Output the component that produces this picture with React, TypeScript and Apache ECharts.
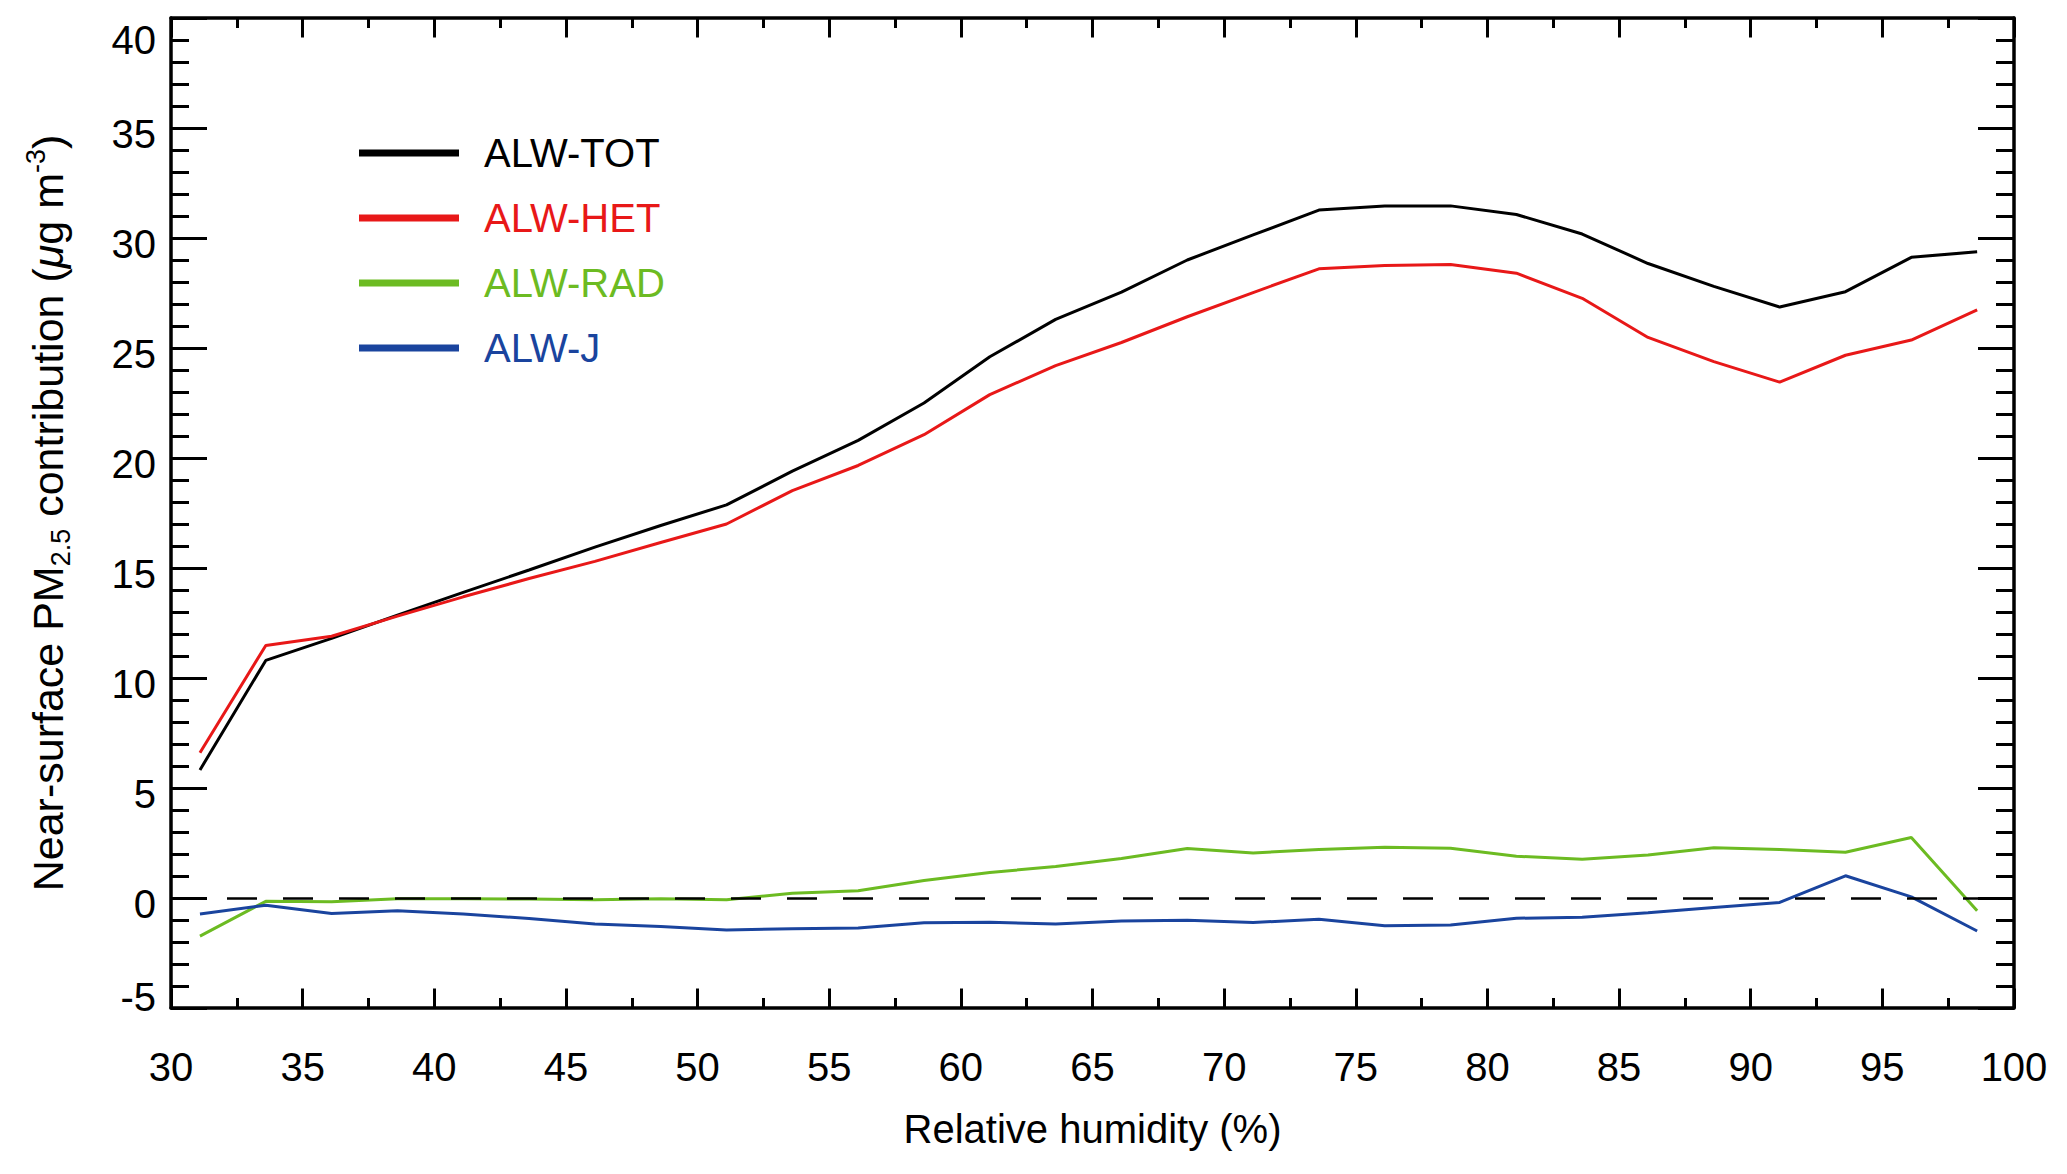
import { useEffect, useRef } from 'react'
import * as echarts from 'echarts'

// Relative humidity bin centres (%)
const rh = [
  31.1, 33.6, 36.1, 38.6, 41.1, 43.6, 46.1, 48.6, 51.1, 53.6, 56.1, 58.6, 61.1, 63.6,
  66.1, 68.6, 71.1, 73.6, 76.1, 78.6, 81.1, 83.6, 86.1, 88.6, 91.1, 93.6, 96.1, 98.6,
]

// Near-surface PM2.5 contribution (ug m-3)
const alwTot = [
  5.82, 10.8, 11.8, 12.86, 13.89, 14.91, 15.95, 16.93, 17.87, 19.4, 20.8, 22.5, 24.6, 26.3,
  27.54, 29.0, 30.14, 31.27, 31.46, 31.46, 31.07, 30.18, 28.84, 27.8, 26.86, 27.56, 29.12, 29.37,
]
const alwHet = [
  6.6, 11.48, 11.9, 12.81, 13.69, 14.52, 15.3, 16.16, 17.0, 18.52, 19.66, 21.06, 22.88, 24.2,
  25.25, 26.42, 27.52, 28.6, 28.75, 28.8, 28.4, 27.26, 25.48, 24.38, 23.45, 24.67, 25.36, 26.73,
]
const alwRad = [
  -1.73, -0.15, -0.17, -0.03, -0.03, -0.05, -0.08, -0.03, -0.08, 0.22, 0.33, 0.8, 1.16, 1.43,
  1.8, 2.25, 2.05, 2.2, 2.31, 2.26, 1.9, 1.76, 1.95, 2.28, 2.2, 2.08, 2.75, -0.58,
]
const alwJ = [
  -0.73, -0.33, -0.7, -0.58, -0.73, -0.93, -1.18, -1.3, -1.45, -1.4, -1.36, -1.13, -1.1, -1.18,
  -1.05, -1.01, -1.11, -0.97, -1.26, -1.23, -0.92, -0.88, -0.67, -0.43, -0.2, 1.01, 0.05, -1.5,
]

const seriesNames = ['ALW-TOT', 'ALW-HET', 'ALW-RAD', 'ALW-J']
const seriesColors = ['#000000', '#e81818', '#6cbb22', '#1a449e']
const seriesValues = [alwTot, alwHet, alwRad, alwJ]

const FONT = '"Liberation Sans", Arial, Helvetica, sans-serif'

export default function App() {
  const ref = useRef<HTMLDivElement>(null)

  useEffect(() => {
    if (!ref.current) return
    const chart = echarts.init(ref.current, null, { renderer: 'svg' })

    const axisLine = { show: true, onZero: false, lineStyle: { color: '#000', width: 3.5 } }

    const xBase = {
      type: 'value' as const,
      min: 30,
      max: 100,
      interval: 5,
      splitLine: { show: false },
      axisLine,
      axisTick: { show: true, inside: true, length: 19.5, lineStyle: { color: '#000', width: 3 } },
      minorTick: { show: true, splitNumber: 2, length: 10, lineStyle: { color: '#000', width: 3 } },
    }
    const yBase = {
      type: 'value' as const,
      min: -5,
      max: 40,
      interval: 5,
      splitLine: { show: false },
      axisLine,
      axisTick: { show: true, inside: true, length: 36, lineStyle: { color: '#000', width: 3 } },
      minorTick: { show: true, splitNumber: 5, length: 18, lineStyle: { color: '#000', width: 3 } },
    }

    const tickFont = { fontSize: 40, fontFamily: FONT, color: '#000' }

    chart.setOption({
      animation: false,
      backgroundColor: '#fff',
      grid: { left: 171, right: 53, top: 18, bottom: 166, containLabel: false },
      legend: {
        orient: 'vertical',
        left: 359,
        top: 133,
        padding: 0,
        icon: 'rect',
        itemWidth: 100,
        itemHeight: 7,
        itemGap: 25,
        selectedMode: false,
        textStyle: { ...tickFont, lineHeight: 40, padding: [0, 0, 0, 20] },
        data: seriesNames.map((name, i) => ({
          name,
          itemStyle: { color: seriesColors[i] },
          textStyle: { color: seriesColors[i] },
        })),
      },
      xAxis: [
        {
          ...xBase,
          position: 'bottom',
          name: 'Relative humidity (%)',
          nameLocation: 'middle',
          nameGap: 101,
          nameTextStyle: { ...tickFont, fontSize: 40 },
          axisLabel: { ...tickFont, margin: 39 },
        },
        {
          ...xBase,
          position: 'top',
          axisLabel: { show: false },
        },
      ],
      yAxis: [
        {
          ...yBase,
          position: 'left',
          name:
            '{a|Near-surface PM}{s|2.5}{a| contribution (}{g|\u03bc}{a|g m}{p|-3}{a|)}',
          nameLocation: 'middle',
          nameRotate: 90,
          nameGap: 97,
          nameTextStyle: {
            rich: {
              a: { fontSize: 43, lineHeight: 52, fontFamily: FONT, color: '#000' },
              g: { fontSize: 43, lineHeight: 52, fontFamily: FONT, fontStyle: 'italic', color: '#000' },
              s: { fontSize: 27, lineHeight: 27, verticalAlign: 'bottom', fontFamily: FONT, color: '#000' },
              p: { fontSize: 27, lineHeight: 27, verticalAlign: 'top', fontFamily: FONT, color: '#000' },
            },
          },
          axisLabel: {
            margin: 15,
            formatter: (v: number) =>
              v === 40 ? `{t|${v}}` : v === -5 ? `{b|${v}}` : `{n|${v}}`,
            rich: {
              n: { ...tickFont, padding: [12, 0, 0, 0] },
              t: { ...tickFont, padding: [44, 0, 0, 0] },
              b: { ...tickFont, padding: [0, 0, 22, 0] },
            },
          },
        },
        {
          ...yBase,
          position: 'right',
          axisLabel: { show: false },
        },
      ],
      series: seriesNames.map((name, i) => ({
        name,
        type: 'line',
        xAxisIndex: 0,
        yAxisIndex: 0,
        data: rh.map((x, k) => [x, seriesValues[i][k]]),
        symbol: 'none',
        lineStyle: { color: seriesColors[i], width: 3 },
        itemStyle: { color: seriesColors[i] },
        ...(i === seriesNames.length - 1
          ? {
              markLine: {
                silent: true,
                symbol: ['none', 'none'],
                label: { show: false },
                lineStyle: { color: '#000', type: [30, 26], width: 2.5 },
                data: [{ yAxis: 0 }],
              },
            }
          : {}),
      })),
    })

    return () => chart.dispose()
  }, [])

  return (
    <div
      ref={ref}
      style={{ position: 'absolute', left: 0, top: 0, width: 2067, height: 1174 }}
    />
  )
}
